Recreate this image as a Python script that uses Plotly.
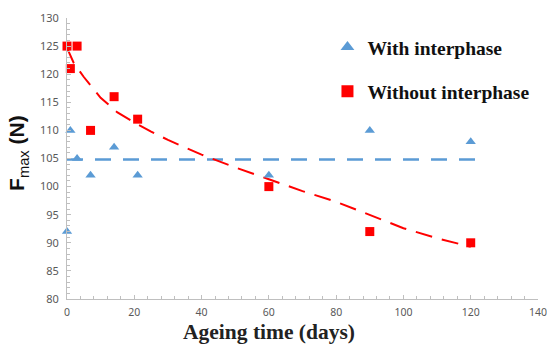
import plotly.graph_objects as go

# Measured data
days = [0, 1, 3, 7, 14, 21, 60, 90, 120]
with_interphase = [92, 110, 105, 102, 107, 102, 102, 110, 108]
without_interphase = [125, 121, 125, 110, 116, 112, 100, 92, 90]

# Trend lines
trend_with_x = [0, 123]
trend_with_y = [104.8, 104.8]
trend_without_x = [0, 2, 5, 10, 15, 20, 25, 30, 40, 50, 60, 70, 80, 90, 100, 110, 120]
trend_without_y = [124.7, 122.0, 119.5, 115.8, 113.2, 111.4, 109.8, 108.3, 105.7, 103.4,
                   101.3, 99.2, 97.3, 95.0, 92.6, 90.8, 89.3]

x_ticks = [0, 20, 40, 60, 80, 100, 120, 140]
y_ticks = [80, 85, 90, 95, 100, 105, 110, 115, 120, 125, 130]

BLUE = "#5b9bd5"
RED = "#ff0000"

fig = go.Figure()
fig.add_trace(go.Scatter(x=trend_with_x, y=trend_with_y, mode="lines",
                         line=dict(color=BLUE, width=2.5, dash="16px,12px"),
                         showlegend=False, hoverinfo="skip"))
fig.add_trace(go.Scatter(x=trend_without_x, y=trend_without_y, mode="lines",
                         line=dict(color=RED, width=2, dash="17px,10px"),
                         showlegend=False, hoverinfo="skip"))
fig.add_trace(go.Scatter(x=days, y=with_interphase, mode="markers", name="<b>With interphase</b>",
                         legendgroup="a", cliponaxis=False,
                         marker=dict(symbol="triangle-up", color=BLUE, size=9)))
fig.add_trace(go.Scatter(x=days, y=without_interphase, mode="markers", name="<b>Without interphase</b>",
                         legendgroup="b", cliponaxis=False,
                         marker=dict(symbol="square", color=RED, size=9)))

fig.update_layout(
    width=547, height=347,
    margin=dict(l=67, r=9, t=18, b=48, autoexpand=False),
    plot_bgcolor="white", paper_bgcolor="white",
    legend=dict(x=0.553, y=0.965, xanchor="left", yanchor="top",
                font=dict(family="Liberation Serif", size=19.5, color="#111111"),
                tracegroupgap=16, itemsizing="constant", bgcolor="rgba(0,0,0,0)"),
    xaxis=dict(range=[0, 140], tickvals=x_ticks, showgrid=False, zeroline=False,
               automargin=False, ticklabelstandoff=3, ticklabeloverflow="allow",
               showline=True, linecolor="#bfbfbf", linewidth=1,
               ticks="inside", ticklen=4, tickcolor="#bfbfbf",
               minor=dict(dtick=4, ticks="inside", ticklen=3, tickcolor="#bfbfbf"),
               tickfont=dict(family="Noto Sans", size=10.5, color="#595959")),
    yaxis=dict(range=[80, 130], tickvals=y_ticks, showgrid=False, zeroline=False,
               automargin=False, ticklabelstandoff=5, ticklabeloverflow="allow",
               showline=True, linecolor="#bfbfbf", linewidth=1,
               ticks="inside", ticklen=4, tickcolor="#bfbfbf",
               minor=dict(dtick=1, ticks="inside", ticklen=3, tickcolor="#bfbfbf"),
               tickfont=dict(family="Noto Sans", size=11, color="#595959")),
)

fig.add_annotation(xref="paper", yref="paper", x=-0.104, y=0.52,
                   xanchor="center", yanchor="middle",
                   text="<b>F</b><sub>max</sub><b> (N)</b>", textangle=-90,
                   showarrow=False,
                   font=dict(family="Liberation Sans", size=21, color="#111111"))
fig.add_annotation(xref="paper", yref="paper", x=0.429, y=-0.117,
                   xanchor="center", yanchor="middle",
                   text="<b>Ageing time (days)</b>", showarrow=False,
                   font=dict(family="Liberation Serif", size=21.5, color="#222222"))

fig.write_html("out.html", config={"displayModeBar": False})

# remove the default page margin so the figure sits at the window's top-left
with open("out.html", encoding="utf-8") as f:
    html = f.read()
html = html.replace("<body>", '<body style="margin:0;padding:0;">', 1)
with open("out.html", "w", encoding="utf-8") as f:
    f.write(html)
